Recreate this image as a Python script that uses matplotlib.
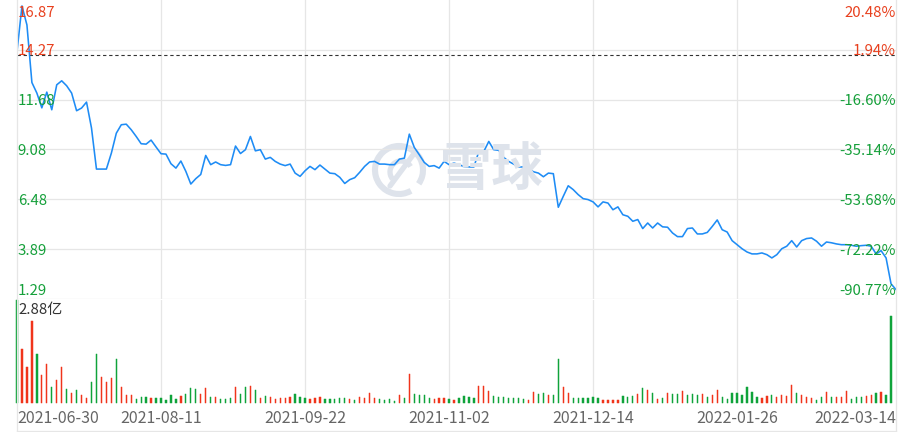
import matplotlib
matplotlib.use("Agg")
import matplotlib.pyplot as plt
from matplotlib.lines import Line2D
from matplotlib.patches import Arc
import matplotlib.transforms as mtransforms

plt.rcParams['font.family'] = ['Noto Sans CJK SC', 'DejaVu Sans']

# ---------------- data ----------------
date_labels = ["2021-06-30", "2021-08-11", "2021-09-22", "2021-11-02",
               "2021-12-14", "2022-01-26", "2022-03-14"]
date_label_idx = [0, 29, 58, 87, 116, 145, 177]

prices = [
    14.18, 16.56, 15.57, 12.57, 12.02, 11.25, 12.07, 11.15, 12.45, 12.66,
    12.40, 12.02, 11.10, 11.24, 11.55, 10.20, 8.06, 8.06, 8.06, 8.89,
    9.93, 10.37, 10.40, 10.11, 9.76, 9.38, 9.36, 9.57, 9.21, 8.86,
    8.84, 8.34, 8.11, 8.48, 7.94, 7.28, 7.56, 7.78, 8.77, 8.29,
    8.43, 8.29, 8.25, 8.29, 9.26, 8.87, 9.07, 9.76, 9.01, 9.07,
    8.58, 8.67, 8.46, 8.32, 8.24, 8.32, 7.85, 7.68, 7.97, 8.20,
    8.03, 8.27, 8.06, 7.85, 7.82, 7.63, 7.31, 7.51, 7.61, 7.89,
    8.20, 8.43, 8.46, 8.32, 8.32, 8.29, 8.29, 8.58, 8.63, 9.88,
    9.19, 8.81, 8.41, 8.20, 8.24, 8.11, 8.46, 8.29, 8.37, 8.29,
    8.19, 8.17, 8.17, 8.98, 8.98, 9.50, 9.07, 9.04, 8.67, 8.46,
    8.32, 8.17, 8.17, 8.09, 7.92, 7.85, 7.66, 7.85, 7.82, 6.07,
    6.64, 7.19, 6.99, 6.73, 6.52, 6.47, 6.35, 6.09, 6.35, 6.29,
    5.94, 6.09, 5.68, 5.60, 5.34, 5.43, 4.96, 5.25, 4.99, 5.25,
    5.05, 5.03, 4.73, 4.54, 4.54, 4.96, 4.99, 4.68, 4.68, 4.76,
    5.07, 5.41, 4.90, 4.78, 4.33, 4.12, 3.91, 3.74, 3.64, 3.64,
    3.69, 3.60, 3.43, 3.60, 3.91, 4.04, 4.33, 4.00, 4.33, 4.44,
    4.47, 4.30, 4.04, 4.26, 4.22, 4.16, 4.12, 4.12, 4.09, 4.04,
    4.07, 4.09, 4.04, 3.64, 3.81, 3.43, 2.08, 1.78,
]

# volume in 亿 shares, and bar colour flag (1 = up/red, 0 = down/green)
volumes = [
    2.88, 1.50, 1.00, 2.29, 1.37, 0.78, 1.10, 0.45, 0.65, 1.00,
    0.40, 0.28, 0.37, 0.22, 0.14, 0.58, 1.37, 0.72, 0.58, 0.70,
    1.24, 0.45, 0.22, 0.22, 0.11, 0.17, 0.17, 0.14, 0.14, 0.14,
    0.08, 0.22, 0.11, 0.20, 0.25, 0.42, 0.39, 0.25, 0.42, 0.17,
    0.17, 0.11, 0.11, 0.14, 0.45, 0.25, 0.45, 0.47, 0.36, 0.14,
    0.20, 0.17, 0.11, 0.14, 0.14, 0.17, 0.25, 0.17, 0.14, 0.11,
    0.14, 0.17, 0.11, 0.11, 0.11, 0.14, 0.14, 0.11, 0.08, 0.17,
    0.14, 0.28, 0.14, 0.11, 0.08, 0.11, 0.06, 0.22, 0.14, 0.82,
    0.25, 0.22, 0.22, 0.14, 0.11, 0.14, 0.14, 0.11, 0.07, 0.14,
    0.19, 0.17, 0.14, 0.48, 0.48, 0.34, 0.19, 0.17, 0.17, 0.14,
    0.14, 0.14, 0.12, 0.09, 0.32, 0.25, 0.28, 0.22, 0.22, 1.24,
    0.45, 0.28, 0.14, 0.14, 0.14, 0.14, 0.17, 0.14, 0.08, 0.08,
    0.08, 0.08, 0.20, 0.17, 0.20, 0.25, 0.42, 0.36, 0.28, 0.11,
    0.14, 0.28, 0.25, 0.25, 0.33, 0.22, 0.25, 0.22, 0.25, 0.17,
    0.22, 0.36, 0.17, 0.11, 0.28, 0.28, 0.22, 0.45, 0.31, 0.17,
    0.14, 0.20, 0.22, 0.17, 0.22, 0.20, 0.50, 0.28, 0.22, 0.17,
    0.14, 0.08, 0.17, 0.31, 0.17, 0.17, 0.17, 0.33, 0.11, 0.17,
    0.17, 0.19, 0.22, 0.28, 0.31, 0.22, 2.43,
]
up_flags = [
    0, 1, 1, 1, 0, 1, 1, 0, 1, 1,
    0, 1, 0, 1, 1, 0, 0, 1, 1, 1,
    0, 1, 1, 1, 0, 0, 0, 1, 0, 0,
    0, 0, 0, 1, 0, 0, 0, 1, 1, 0,
    1, 0, 0, 0, 1, 0, 0, 1, 0, 1,
    0, 1, 1, 1, 1, 1, 0, 0, 0, 1,
    1, 1, 0, 0, 0, 0, 0, 1, 0, 1,
    1, 1, 1, 0, 0, 0, 0, 1, 0, 1,
    0, 0, 0, 0, 1, 1, 1, 0, 1, 0,
    0, 0, 0, 1, 1, 1, 0, 0, 0, 0,
    0, 0, 0, 1, 1, 0, 0, 1, 0, 0,
    1, 1, 0, 0, 0, 0, 0, 0, 1, 1,
    1, 1, 0, 0, 0, 1, 0, 1, 0, 1,
    0, 1, 0, 0, 1, 0, 0, 0, 1, 0,
    1, 1, 0, 0, 0, 0, 0, 0, 0, 0,
    1, 1, 0, 1, 1, 1, 1, 0, 1, 1,
    1, 0, 0, 1, 0, 1, 1, 1, 0, 0,
    0, 1, 1, 0, 1, 0, 0,
]

price_ticks = [16.87, 14.27, 11.68, 9.08, 6.48, 3.89, 1.29]
pct_ticks = ["20.48%", "1.94%", "-16.60%", "-35.14%", "-53.68%", "-72.22%", "-90.77%"]
base_price = 14.00
vol_max = 2.88
vol_label = "2.88亿"

# ---------------- style ----------------
W, H = 904, 432
RED = '#E8401E'
GREEN = '#15A03A'
BAR_RED = '#F0341B'
BAR_GREEN = '#0FA33A'
GRID = '#E6E6E6'
LINE = '#1E8CF5'

fig = plt.figure(figsize=(W / 100, H / 100), dpi=100)
fig.patch.set_facecolor('white')

L, R = 17, 896
ax = fig.add_axes([L / W, (H - 299) / H, (R - L) / W, 299 / H])
axv = fig.add_axes([L / W, (H - 403) / H, (R - L) / W, 103 / H])

n = len(prices)
xs = list(range(n))
xmax = n - 1

for a in (ax, axv):
    a.set_xlim(0, xmax)
    for s in a.spines.values():
        s.set_visible(False)
    a.set_xticks([])
    a.set_yticks([])
    a.patch.set_alpha(0)

ax.set_ylim(price_ticks[-1], price_ticks[0])
axv.set_ylim(0, vol_max)

# grid lines
for p in price_ticks[1:]:
    ax.axhline(p, color=GRID, lw=0.9, zorder=1)
for xi in date_label_idx[1:-1]:
    ax.axvline(xi, color=GRID, lw=0.9, zorder=1)
    axv.axvline(xi, color=GRID, lw=0.9, zorder=1)


def fig_line(x0, y0, x1, y1, **kw):
    fig.add_artist(Line2D([x0 / W, x1 / W], [(H - y0) / H, (H - y1) / H],
                          transform=fig.transFigure, **kw))


# borders
fig_line(L, 0, L, 431, color=GRID, lw=0.9)
fig_line(R, 0, R, 431, color=GRID, lw=0.9)
fig_line(L, 431, R, 431, color=GRID, lw=0.9)

# watermark (雪球 logo)
pix = mtransforms.Affine2D().scale(1 / W, -1 / H).translate(0, 1) + fig.transFigure
wm = '#DEE3EB'
fig.add_artist(Arc((399, 170), 48, 48, theta1=60, theta2=395, lw=4.4, color=wm,
                   transform=pix, zorder=0))
fig.add_artist(Arc((401, 172), 22, 22, theta1=140, theta2=330, lw=3.8, color=wm,
                   transform=pix, zorder=0))
fig.add_artist(Line2D([(390) / W, (413) / W], [(H - 186) / H, (H - 155) / H],
                      transform=fig.transFigure, color=wm, lw=3.8, zorder=0,
                      solid_capstyle='round'))
fig.text(491 / W, (H - 169) / H, "雪球", fontsize=37, color=wm, ha='center',
         va='center', fontweight='bold', zorder=0)

# price line
ax.plot(xs, prices, color=LINE, lw=1.15, zorder=3, solid_joinstyle='round')

# base dashed line
ax.axhline(base_price, color='#333333', lw=0.8, ls=(0, (3, 2.5)), zorder=2)

# price labels
offsets = [-8, 0, 0, 0, 0, 0, 6.5]
for i, (p, pct) in enumerate(zip(price_ticks, pct_ticks)):
    col = RED if p >= base_price else GREEN
    ax.annotate(f"{p:.2f}", xy=(0, p), xycoords=('axes fraction', 'data'),
                xytext=(0.5, offsets[i]), textcoords='offset points',
                ha='left', va='center_baseline', fontsize=10.8, color=col, zorder=5)
    ax.annotate(pct, xy=(1, p), xycoords=('axes fraction', 'data'),
                xytext=(0, offsets[i]), textcoords='offset points',
                ha='right', va='center_baseline', fontsize=10.8, color=col, zorder=5)

# volume bars
vx = list(range(len(volumes)))
cols = [BAR_RED if u else BAR_GREEN for u in up_flags]
axv.bar(vx, volumes, width=0.26, color=cols, edgecolor=cols, linewidth=0.35,
        zorder=3, clip_on=False)
axv.text(0.002, 0.90, vol_label, transform=axv.transAxes, ha='left', va='center',
         fontsize=10.8, color='#333333', zorder=5)

# date labels
blend = mtransforms.blended_transform_factory(axv.transData, axv.transAxes)
for k, (xi, lab) in enumerate(zip(date_label_idx, date_labels)):
    ha = 'left' if k == 0 else ('right' if k == len(date_labels) - 1 else 'center')
    axv.text(xi, -0.15, lab, transform=blend, ha=ha, va='center', fontsize=11.5,
             color='#666666')

fig.savefig("out.png", dpi=100, facecolor='white')
